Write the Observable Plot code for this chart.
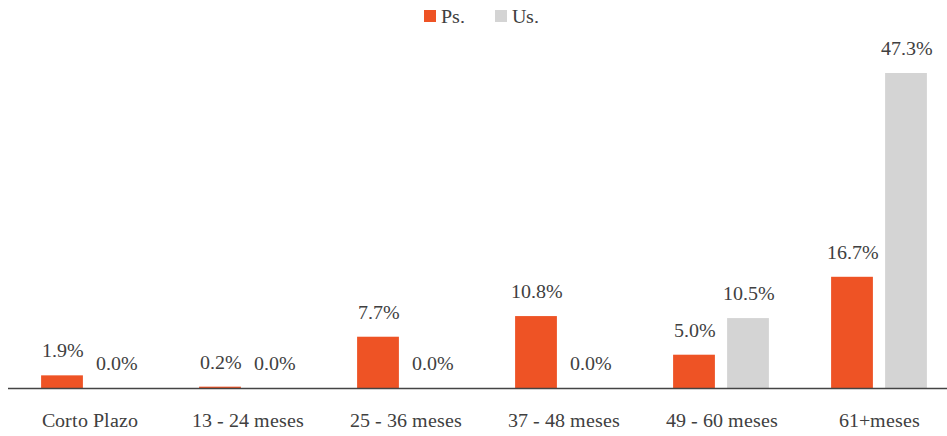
<!DOCTYPE html>
<html>
<head>
<meta charset="utf-8">
<script src="https://cdn.jsdelivr.net/npm/d3@7"></script>
<script src="https://cdn.jsdelivr.net/npm/@observablehq/plot@0.6"></script>
<style>
  @font-face { font-family: "RefSerif"; src: local("Liberation Serif"), local("LiberationSerif-Regular"); }
  body { margin: 0; background: #fff; font-family: "RefSerif", "Liberation Serif", serif; }
  #legend { height: 32px; display: flex; justify-content: center; align-items: center; gap: 30px; font-size: 20px; color: #404040; padding-left: 16px; box-sizing: border-box; }
  #legend .item { display: flex; align-items: center; gap: 5px; }
  #legend .sw { width: 12px; height: 12px; display: inline-block; }
  svg { display: block; }
  svg text { font-family: "RefSerif", "Liberation Serif", serif !important; }
</style>
</head>
<body>
<div id="legend"></div>
<div id="chart"></div>
<script>
const categories = ["Corto Plazo", "13 - 24 meses", "25 - 36 meses", "37 - 48 meses", "49 - 60 meses", "61+meses"];
const seriesNames = ["Ps.", "Us."];
const psValues = [1.9, 0.2, 7.7, 10.8, 5.0, 16.7];
const usValues = [0.0, 0.0, 0.0, 0.0, 10.5, 47.3];
const colors = ["#EE5325", "#D4D4D4"];
const FONT = "RefSerif, 'Liberation Serif', serif";

const psData = categories.map((c, i) => ({category: c, series: "Ps.", value: psValues[i]}));
const usData = categories.map((c, i) => ({category: c, series: "Us.", value: usValues[i]}));

const legend = document.getElementById("legend");
seriesNames.forEach((s, i) => {
  const item = document.createElement("span");
  item.className = "item";
  const sw = document.createElement("span");
  sw.className = "sw";
  sw.style.background = colors[i];
  item.appendChild(sw);
  item.appendChild(document.createTextNode(s));
  legend.appendChild(item);
});

const maxV = d3.max([...psValues, ...usValues]);
const fmt = v => v.toFixed(1) + "%";

const plot = Plot.plot({
  width: 947,
  height: 404,
  marginLeft: 8,
  marginRight: 0,
  marginTop: 0,
  marginBottom: 48,
  style: {fontFamily: FONT, fontSize: "20px", color: "#404040", background: "#fff"},
  x: {domain: categories, range: [9, 958], padding: 0, label: null},
  y: {domain: [0, maxV], range: [356, 41], axis: null},
  marks: [
    Plot.barY(psData, {x: "category", y: "value", fill: colors[0], insetLeft: 31.1, insetRight: 85.1}),
    Plot.barY(usData, {x: "category", y: "value", fill: colors[1], insetLeft: 85.1, insetRight: 31.1}),
    Plot.text(psData, {x: "category", y: "value", text: d => fmt(d.value), dx: -27, dy: -25, lineAnchor: "middle", fill: "#404040", fontSize: 20, fontFamily: FONT}),
    Plot.text(usData, {x: "category", y: "value", text: d => fmt(d.value), dx: 27, dy: -25, lineAnchor: "middle", fill: "#404040", fontSize: 20, fontFamily: FONT}),
    Plot.axisX({tickSize: 0, tickPadding: 24, label: null, fontSize: 20, fontFamily: FONT, fill: "#404040"}),
    Plot.ruleY([0], {stroke: "#444", strokeWidth: 1.6})
  ]
});
document.getElementById("chart").appendChild(plot);
</script>
</body>
</html>
